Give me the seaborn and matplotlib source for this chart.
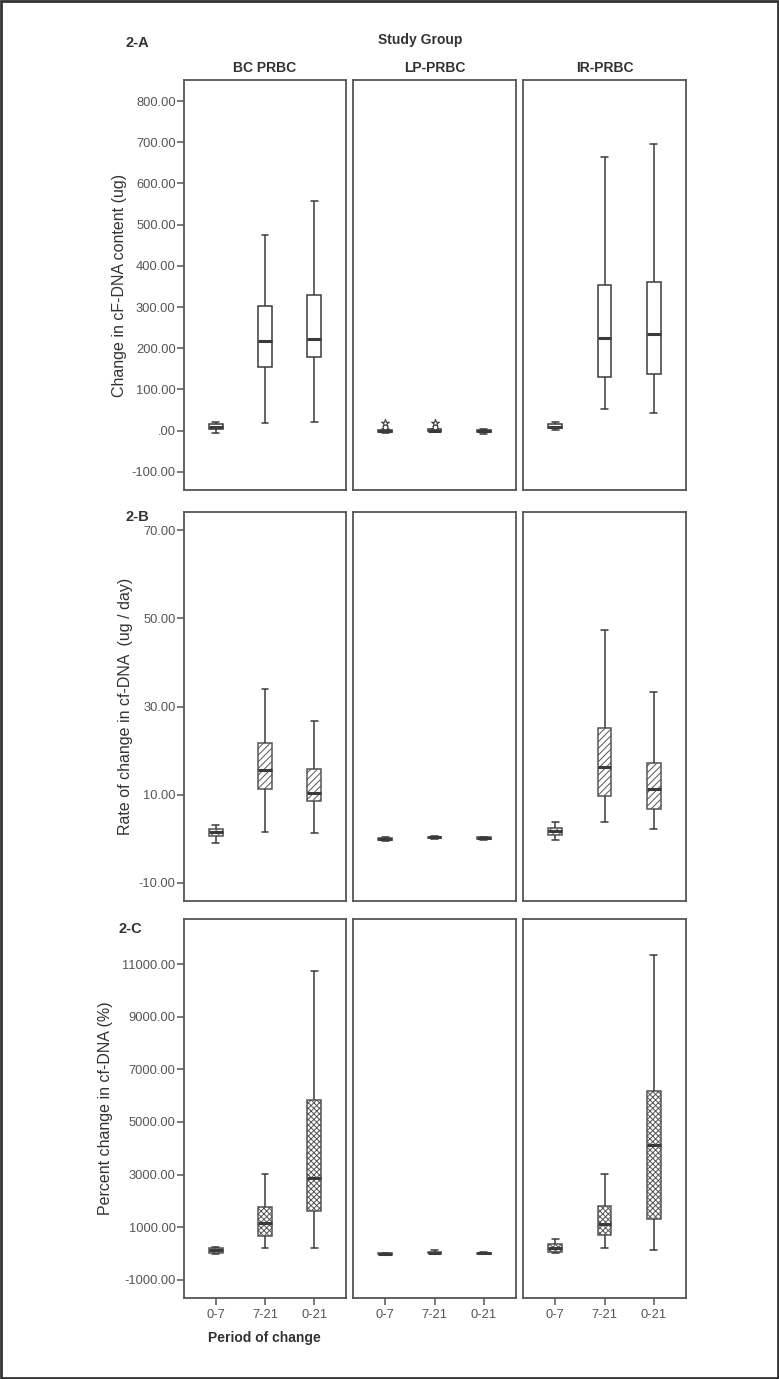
import numpy as np
import pandas as pd
import seaborn as sns
import matplotlib
matplotlib.use("Agg")
import matplotlib.pyplot as plt
from matplotlib.ticker import FuncFormatter

# catégories
periods = ["0-7", "7-21", "0-21"]
groups = ["BC PRBC", "LP-PRBC", "IR-PRBC"]

# résumés en cinq nombres : [min, q1, médiane, q3, max] par période
content_bc = [[-6, 4, 8, 16, 22], [19, 155, 218, 303, 475], [22, 178, 222, 329, 557]]
content_lp = [[-5, -3, -1, 2, 4], [-4, -2, 0, 3, 5], [-7, -4, -1, 2, 5]]
content_ir = [[2, 6, 10, 16, 22], [52, 131, 226, 353, 663], [43, 137, 234, 361, 696]]

rate_bc = [[-0.9, 0.7, 1.6, 2.2, 3.2], [1.6, 11.3, 15.7, 21.7, 34.0], [1.3, 8.5, 10.5, 15.8, 26.7]]
rate_lp = [[-0.4, -0.2, 0.0, 0.2, 0.4], [0.0, 0.2, 0.3, 0.4, 0.6], [-0.2, 0.0, 0.2, 0.3, 0.5]]
rate_ir = [[-0.2, 0.95, 1.7, 2.4, 3.7], [3.8, 9.6, 16.3, 25.2, 47.4], [2.2, 6.8, 11.3, 17.3, 33.2]]

pct_bc = [[-10, 15, 120, 228, 260], [205, 683, 1177, 1785, 3026], [205, 1633, 2863, 5836, 10734]]
pct_lp = [[-40, -20, 0, 20, 40], [0, 20, 40, 70, 120], [-30, -10, 10, 40, 60]]
pct_ir = [[15, 53, 205, 368, 558], [228, 710, 1116, 1823, 3026], [141, 1318, 4127, 6190, 11342]]

# valeurs aberrantes (étoiles et cercles) du groupe LP, panneau 2-A
lp_star_x = [0, 1]
lp_star_y = [19, 19]
lp_circle_x = [0, 1]
lp_circle_y = [8, 8]

rows = [
    dict(data=[content_bc, content_lp, content_ir], label="Change in cF-DNA content (ug)",
         ticks=[-100, 0, 100, 200, 300, 400, 500, 600, 700, 800], ylim=(-144, 851),
         hatch=None, tag="2-A", tag_xy=(137, 43), label_x=127),
    dict(data=[rate_bc, rate_lp, rate_ir], label="Rate of change in cf-DNA  (ug / day)",
         ticks=[-10, 10, 30, 50, 70], ylim=(-14.1, 74.1),
         hatch="/////", tag="2-B", tag_xy=(137, 517), label_x=133),
    dict(data=[pct_bc, pct_lp, pct_ir], label="Percent change in cf-DNA (%)",
         ticks=[-1000, 1000, 3000, 5000, 7000, 9000, 11000], ylim=(-1684, 12709),
         hatch="xxxxxx", tag="2-C", tag_xy=(130, 929), label_x=113),
]

W, H = 779, 1379
col_x = [(184, 346), (353, 516), (523, 686)]
row_y = [(80, 490), (512, 901), (919, 1298)]

sns.set_style("white")
plt.rcParams["font.family"] = ["Liberation Sans", "DejaVu Sans"]
plt.rcParams["hatch.linewidth"] = 0.7

DARK = "#3a3a3a"
GREY = "#555555"


def spss_fmt(v, pos):
    s = f"{v:.2f}"
    if s.startswith("0."):
        s = s[1:]
    elif s.startswith("-0."):
        s = "-" + s[2:]
    return s


fig = plt.figure(figsize=(W / 100, H / 100), dpi=100)
fig.patch.set_facecolor("white")

for r, row in enumerate(rows):
    y0, y1 = row_y[r]
    for c in range(3):
        x0, x1 = col_x[c]
        ax = fig.add_axes([x0 / W, 1 - y1 / H, (x1 - x0) / W, (y1 - y0) / H])
        summ = row["data"][c]
        df = pd.DataFrame({
            "period": np.repeat(periods, 5),
            "value": np.concatenate(summ),
        })
        sns.boxplot(data=df, x="period", y="value", order=periods, whis=(0, 100),
                    width=0.28, color="white", linecolor=DARK, linewidth=1.1,
                    fliersize=0, medianprops=dict(linewidth=2.2, color=DARK), ax=ax)
        if row["hatch"]:
            for p in ax.patches:
                p.set_hatch(row["hatch"])
                p.set_edgecolor(GREY)

        if r == 0 and c == 1:
            ax.scatter(lp_star_x, lp_star_y, marker="*", s=34, facecolor="white",
                       edgecolor=DARK, linewidth=0.8, zorder=5)
            ax.scatter(lp_circle_x, lp_circle_y, marker="o", s=12, facecolor="white",
                       edgecolor=DARK, linewidth=0.8, zorder=5)

        ax.set_xlim(-0.65, 2.65)
        ax.set_ylim(*row["ylim"])
        ax.set_yticks(row["ticks"])
        ax.yaxis.set_major_formatter(FuncFormatter(spss_fmt))
        ax.set_xlabel("")
        ax.set_ylabel("")
        for sp in ax.spines.values():
            sp.set_visible(True)
            sp.set_color(GREY)
            sp.set_linewidth(1.3)
        ax.tick_params(axis="both", direction="out", length=5, width=1.1, color=GREY,
                       labelcolor=GREY, labelsize=9.3)
        if c != 0:
            ax.tick_params(axis="y", left=False, labelleft=False)
        else:
            ax.tick_params(axis="y", left=True, labelleft=True, pad=1)
        if r != 2:
            ax.tick_params(axis="x", bottom=False, labelbottom=False)
        else:
            ax.tick_params(axis="x", bottom=True, labelbottom=True, pad=3)
        if c == 0:
            ax.set_ylabel(row["label"], fontsize=11.5, color="#333333")
            ax.yaxis.set_label_coords((row["label_x"] - x0) / (x1 - x0), 0.5)
        if r == 0:
            ax.set_title(groups[c], fontsize=10, fontweight="bold", color="#333333", pad=6)

    tx, ty = row["tag_xy"]
    fig.text(tx / W, 1 - ty / H, row["tag"], fontsize=10.5, fontweight="bold",
             color="#333333", ha="center", va="center")

fig.text(420 / W, 1 - 40 / H, "Study Group", fontsize=10, fontweight="bold",
         color="#333333", ha="center", va="center")
fig.text(264 / W, 1 - 1338 / H, "Period of change", fontsize=10, fontweight="bold",
         color="#333333", ha="center", va="center")

# cadre autour de la figure
fig.add_artist(plt.Rectangle((0.0015, 0.001), 0.997, 0.998, transform=fig.transFigure,
                             fill=False, edgecolor="#333333", linewidth=2))

fig.savefig("out.png", dpi=100, facecolor="white")
